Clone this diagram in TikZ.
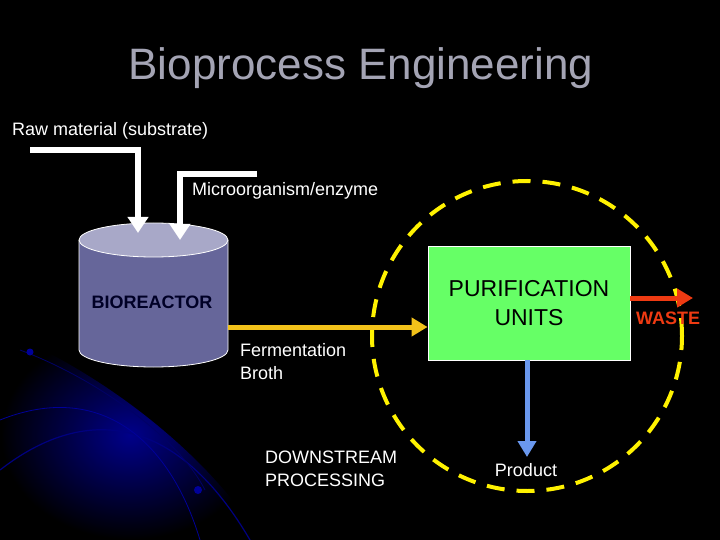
\documentclass[tikz,border=0pt]{standalone}
\usepackage{fontspec}
\setmainfont{Liberation Sans}
\usetikzlibrary{arrows.meta}
\definecolor{ttl}{HTML}{A4A4B4}
\definecolor{ylw}{HTML}{F2C21A}
\definecolor{grn}{HTML}{66FF66}
\definecolor{blu}{HTML}{6A98EE}
\definecolor{rd}{HTML}{EE3A12}
\definecolor{cylb}{HTML}{66669A}
\definecolor{cylt}{HTML}{A8A8C8}
\begin{document}
\begin{tikzpicture}[x=1pt,y=-1pt,
  lbl/.style={text=white,font=\fontsize{18}{23}\selectfont,inner sep=0pt},
  feed/.style={white,line width=6pt,-{Triangle[width=20pt,length=16pt]}},
  arr/.style={line width=5pt,-{Triangle[width=18pt,length=16pt]}}]
\useasboundingbox (0,0) rectangle (720,540);
\fill[black] (0,0) rectangle (720,540);
% background glow
\shade[inner color=blue!60!black,outer color=black,opacity=0.9] (0,330) .. controls (120,380) and (220,470) .. (260,540) -- (0,540) -- cycle;
\draw[blue!50!black,line width=1.2pt] (0,470) .. controls (90,400) and (180,420) .. (250,540);
\draw[blue!60!black,line width=0.8pt] (0,420) .. controls (100,380) and (170,440) .. (200,540);
\draw[blue!40!black,line width=0.8pt] (20,350) .. controls (100,380) and (180,440) .. (205,490);
\fill[blue!60!black] (30,352) circle (3.5);
\fill[blue!60!black] (198,490) circle (4);
% title
\node[text=ttl,font=\fontsize{44}{50}\selectfont] (title) at (361,68) {Bioprocess Engineering};
% labels
\node[lbl,anchor=west] (raw) at (12,131) {Raw material (substrate)};
\node[lbl,anchor=west] (micro) at (192,191) {Microorganism/enzyme};
% cylinder
\fill[cylb,draw=white,line width=0.8pt] (79,240) -- (79,350) arc[start angle=180,end angle=0,x radius=74.5,y radius=17] -- (228,240);
\fill[cylt,draw=white,line width=0.8pt] (153.5,240) ellipse[x radius=74.5,y radius=17];
\node[font=\bfseries\fontsize{18}{20}\selectfont,text=black!85!blue] (bio) at (152,302) {BIOREACTOR};
\coordinate (rawA) at (30,150);
\coordinate (rawB) at (138,150);
\coordinate (rawC) at (138,233);
\draw[feed] (rawA) -- (rawB) -- (rawC);
\coordinate (micA) at (257,174);
\coordinate (micB) at (180,174);
\coordinate (micC) at (180,240);
\draw[feed] (micA) -- (micB) -- (micC);
% circle
\node[draw=yellow,dash pattern=on 18pt off 12pt,line width=4pt,circle,minimum size=310pt] (ring) at (527,336) {};
% purification
\node[fill=grn,draw=white,line width=0.8pt,minimum width=202pt,minimum height=114pt,align=center,font=\fontsize{23}{29}\selectfont,inner sep=0pt] (pur) at (529,303) {PURIFICATION\\UNITS};
\coordinate (bout) at (228,327);
\draw[arr,ylw] (bout) -- (pur.west |- bout);
\node[lbl,anchor=north west,align=left] (broth) at (240,343) {Fermentation\\Broth};
\coordinate (prodt) at (527,457);
\draw[arr,blu] (pur.south -| prodt) -- (prodt);
\node[lbl] (prod) at (526,470) {Product};
\coordinate (wt) at (693,298);
\draw[arr,rd] (pur.east |- wt) -- (wt);
\node[text=rd,font=\bfseries\fontsize{18}{20}\selectfont,inner sep=0pt] (waste) at (668,318) {WASTE};
\node[lbl,anchor=north west,align=left] (down) at (265,451) {DOWNSTREAM\\PROCESSING};
\end{tikzpicture}
\end{document}
